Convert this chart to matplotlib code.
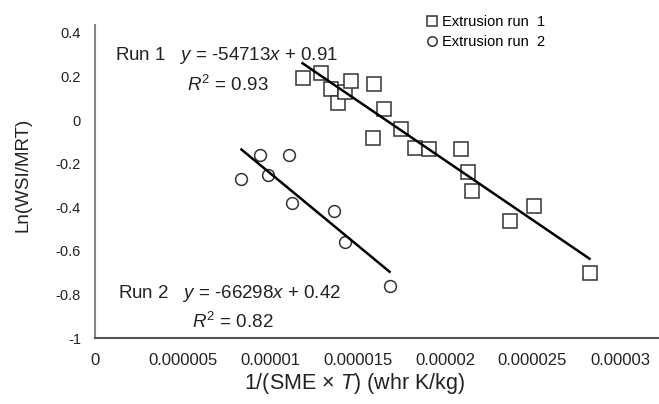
import matplotlib
matplotlib.use("Agg")
import matplotlib.pyplot as plt
import numpy as np
from matplotlib.ticker import FixedLocator, FixedFormatter

plt.rcParams['font.family'] = ['Liberation Sans', 'DejaVu Sans']
plt.rcParams['mathtext.fontset'] = 'custom'
plt.rcParams['mathtext.rm'] = 'Liberation Sans'
plt.rcParams['mathtext.it'] = 'Liberation Sans:italic'

# Data (x in whr K/kg, y = Ln(WSI/MRT))
run1_x = np.array([11.86, 12.89, 13.46, 13.86, 14.31, 14.60, 15.97, 16.54, 15.91,
                   17.51, 18.31, 19.11, 20.89, 21.29, 21.57, 23.74, 25.11, 28.26]) * 1e-6
run1_y = np.array([0.194, 0.217, 0.144, 0.080, 0.130, 0.180, 0.167, 0.052, -0.080,
                   -0.039, -0.126, -0.131, -0.131, -0.236, -0.323, -0.465, -0.396, -0.703])
run2_x = np.array([8.37, 9.40, 9.86, 11.11, 11.23, 13.63, 14.26, 16.83]) * 1e-6
run2_y = np.array([-0.268, -0.158, -0.254, -0.158, -0.382, -0.419, -0.561, -0.762])

fit1 = (-54713, 0.91)
fit2 = (-66298, 0.42)

xticks = [0, 0.000005, 0.00001, 0.000015, 0.00002, 0.000025, 0.00003]
xtick_labels = ['0', '0.000005', '0.00001', '0.000015', '0.00002', '0.000025', '0.00003']
yticks = [0.4, 0.2, 0, -0.2, -0.4, -0.6, -0.8, -1]
ytick_labels = ['0.4', '0.2', '0', '-0.2', '-0.4', '-0.6', '-0.8', '-1']

fig = plt.figure(figsize=(6.59, 4.04), dpi=100)
ax = fig.add_axes([95/659, 1-338/404, 1-95/659, (338-25)/404])

mc = '#333333'
ax.plot(run1_x, run1_y, linestyle='none', marker='s', markersize=9.5,
        markerfacecolor='white', markeredgecolor=mc, markeredgewidth=1.1,
        label='Extrusion run  1', zorder=3)
ax.plot(run2_x, run2_y, linestyle='none', marker='o', markersize=8.5,
        markerfacecolor='white', markeredgecolor=mc, markeredgewidth=1.1,
        label='Extrusion run  2', zorder=3)

for xs, (m, b) in ((run1_x, fit1), (run2_x, fit2)):
    lx = np.array([xs.min(), xs.max()])
    ax.plot(lx, m*lx + b, color='black', linewidth=1.8, zorder=4)

ax.set_xlim(0, (659-95)/17.5*1e-6)
ax.set_ylim(-1, 0.4 + 8/217.9)
ax.xaxis.set_major_locator(FixedLocator(xticks))
ax.xaxis.set_major_formatter(FixedFormatter(xtick_labels))
ax.yaxis.set_major_locator(FixedLocator(yticks))
ax.yaxis.set_major_formatter(FixedFormatter(ytick_labels))
ax.tick_params(axis='both', length=0, colors='#222222')
ax.tick_params(axis='x', pad=11, labelsize=12)
ax.tick_params(axis='y', pad=10, labelsize=10.5)

for s in ('top', 'right'):
    ax.spines[s].set_visible(False)
ax.spines['left'].set_color('#888888')
ax.spines['left'].set_linewidth(1.5)
ax.spines['bottom'].set_color('#555555')
ax.spines['bottom'].set_linewidth(1.5)

ax.set_ylabel('Ln(WSI/MRT)', fontsize=13.5, color='#222222')
ax.yaxis.set_label_coords(-(95-23)/564, (338-175)/313)
ax.set_xlabel('1/(SME × $T$) (whr K/kg)', fontsize=15.5, color='#222222')
ax.xaxis.set_label_coords((354-95)/564, -(383-338)/313)
ax.xaxis.label.set_va('center')
ax.yaxis.label.set_va('center')

tc = '#222222'
fs = 13.5
fig.text(115/659, 1-55/404, 'Run 1   $y$ = -54713$x$ + 0.91', fontsize=fs, color=tc, va='center')
fig.text(187/659, 1-85/404, '$R^2$ = 0.93', fontsize=fs, color=tc, va='center')
fig.text(118/659, 1-293/404, 'Run 2   $y$ = -66298$x$ + 0.42', fontsize=fs, color=tc, va='center')
fig.text(192/659, 1-322/404, '$R^2$ = 0.82', fontsize=fs, color=tc, va='center')

leg = fig.legend(loc='upper left', bbox_to_anchor=(420/659, 1-9/404), frameon=False,
                 fontsize=10.5, markerscale=0.8, handlelength=0.8, handletextpad=0.3,
                 labelspacing=0.45, borderaxespad=0)

fig.savefig('out.png', dpi=100)
